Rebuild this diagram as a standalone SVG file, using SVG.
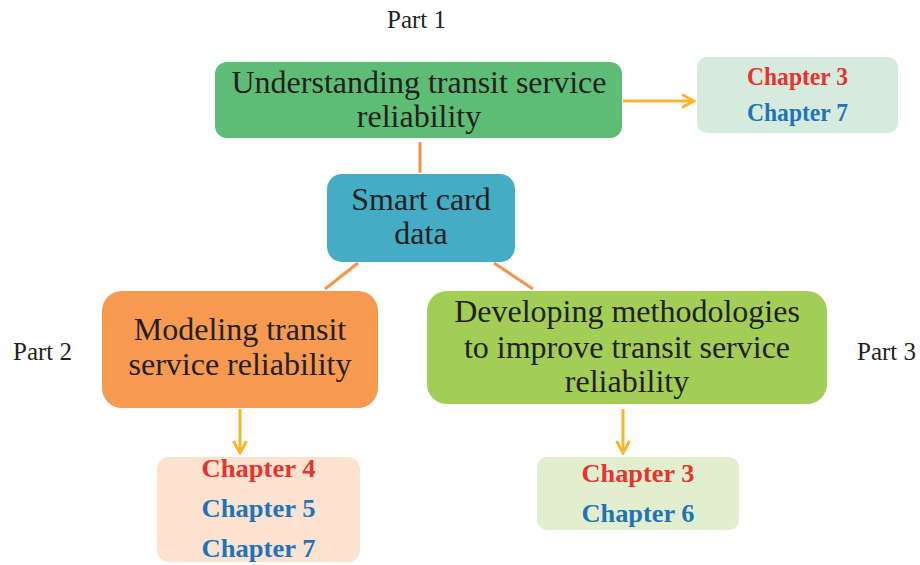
<svg xmlns="http://www.w3.org/2000/svg" width="920" height="565" viewBox="0 0 920 565">
  <style>
    .title { font-family: "Liberation Serif", "Times New Roman", serif; font-size: 32px; fill: #231f20; text-anchor: middle; }
    .part { font-family: "Liberation Serif", "Times New Roman", serif; font-size: 25px; fill: #231f20; }
    .ch { font-family: "Liberation Serif", "Times New Roman", serif; font-size: 25.5px; font-weight: bold; text-anchor: middle; }
    .red { fill: #e8322e; }
    .blue { fill: #1e74ba; }
    .link { stroke: #f7944c; stroke-width: 3; fill: none; }
    .flow { stroke: #fbb52a; stroke-width: 3; fill: none; }
  </style>
  <defs>
    <marker id="chevron" viewBox="0 0 16 16" refX="14" refY="8" markerWidth="16" markerHeight="16" markerUnits="userSpaceOnUse" orient="auto">
      <path d="M2,1.5 L14,8 L2,14.5" fill="none" stroke="#fbb52a" stroke-width="3" stroke-linejoin="miter"/>
    </marker>
  </defs>

  <!-- part labels -->
  <text class="part" x="387" y="28">Part 1</text>
  <text class="part" x="13" y="360">Part 2</text>
  <text class="part" x="857" y="360">Part 3</text>

  <!-- connectors -->
  <g id="connectors">
    <line class="link" x1="420" y1="142" x2="420" y2="173"/>
    <line class="link" x1="358" y1="263" x2="325" y2="289"/>
    <line class="link" x1="494" y1="263" x2="533" y2="289"/>
    <line class="flow" x1="623" y1="101" x2="694" y2="101" marker-end="url(#chevron)"/>
    <line class="flow" x1="240" y1="409" x2="240" y2="453" marker-end="url(#chevron)"/>
    <line class="flow" x1="623" y1="409" x2="623" y2="453" marker-end="url(#chevron)"/>
  </g>

  <!-- Part 1 -->
  <g id="understanding">
    <rect x="215" y="62" width="407" height="76" rx="12" fill="#5dbd74"/>
    <text class="title" x="419" y="93">Understanding transit service</text>
    <text class="title" x="419" y="127">reliability</text>
  </g>

  <g id="chapters-part1">
    <rect x="697" y="57" width="201" height="76" rx="10" fill="#d6ebdd"/>
    <text class="ch red" x="797.5" y="85" textLength="101" lengthAdjust="spacingAndGlyphs">Chapter 3</text>
    <text class="ch blue" x="797.5" y="121" textLength="101" lengthAdjust="spacingAndGlyphs">Chapter 7</text>
  </g>

  <!-- central data source -->
  <g id="smart-card">
    <rect x="327" y="174" width="188" height="88" rx="15" fill="#44acc4"/>
    <text class="title" x="421" y="210">Smart card</text>
    <text class="title" x="421" y="244">data</text>
  </g>

  <!-- Part 2 -->
  <g id="modeling">
    <rect x="102" y="291" width="276" height="117" rx="20" fill="#f79a4f"/>
    <text class="title" x="240" y="340">Modeling transit</text>
    <text class="title" x="240" y="375">service reliability</text>
  </g>

  <g id="chapters-part2">
    <rect x="157" y="457" width="203" height="105" rx="12" fill="#fde3cf"/>
    <text class="ch red" x="258.5" y="477" textLength="114" lengthAdjust="spacingAndGlyphs">Chapter 4</text>
    <text class="ch blue" x="258.5" y="517" textLength="114" lengthAdjust="spacingAndGlyphs">Chapter 5</text>
    <text class="ch blue" x="258.5" y="557" textLength="114" lengthAdjust="spacingAndGlyphs">Chapter 7</text>
  </g>

  <!-- Part 3 -->
  <g id="developing">
    <rect x="427" y="291" width="400" height="113" rx="20" fill="#a2ce55"/>
    <text class="title" x="627" y="322">Developing methodologies</text>
    <text class="title" x="627" y="358">to improve transit service</text>
    <text class="title" x="627" y="392">reliability</text>
  </g>

  <g id="chapters-part3">
    <rect x="537" y="457" width="202" height="73" rx="10" fill="#e2efcf"/>
    <text class="ch red" x="638" y="482" textLength="113" lengthAdjust="spacingAndGlyphs">Chapter 3</text>
    <text class="ch blue" x="638" y="522" textLength="113" lengthAdjust="spacingAndGlyphs">Chapter 6</text>
  </g>
</svg>
